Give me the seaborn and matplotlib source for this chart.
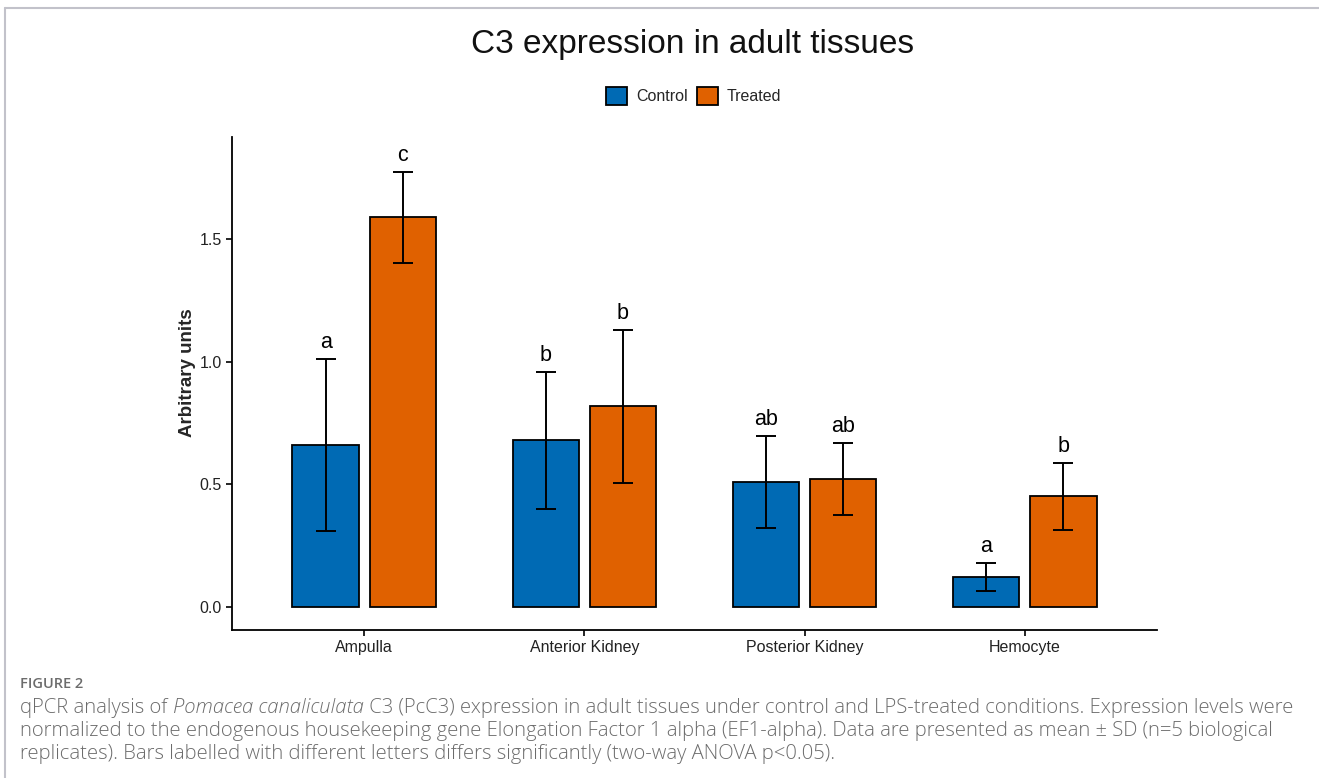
#%%
# C3 expression in adult tissues - grouped bars with SD error bars

import pandas as pd
import numpy as np
import seaborn as sns
from matplotlib import pyplot as plt
from matplotlib.lines import Line2D

# data (mean, SD, letter)
tissues = ["Ampulla", "Anterior Kidney", "Posterior Kidney", "Hemocyte"]
groups = ["Control", "Treated"]

control_mean = [0.66, 0.68, 0.51, 0.122]
control_sd = [0.35, 0.279, 0.188, 0.057]
control_letter = ["a", "b", "ab", "a"]

treated_mean = [1.588, 0.819, 0.522, 0.451]
treated_sd = [0.186, 0.312, 0.147, 0.136]
treated_letter = ["c", "b", "ab", "b"]

colours = ["#006AB4", "#E06100"]

df = pd.DataFrame({
    "tissue": tissues * 2,
    "group": ["Control"] * 4 + ["Treated"] * 4,
    "mean": control_mean + treated_mean,
    "sd": control_sd + treated_sd,
    "letter": control_letter + treated_letter,
})

sns.set_theme(style="ticks")
plt.rcParams['font.family'] = ['Liberation Sans', 'DejaVu Sans']

fig = plt.figure(figsize=(13.19, 7.78), dpi=100)
ax = fig.add_axes([232 / 1319, 148 / 778, 925 / 1319, 493 / 778])

sns.barplot(data=df, x="tissue", y="mean", hue="group", order=tissues, hue_order=groups,
            palette=colours, saturation=1, width=0.7, gap=0.14, errorbar=None,
            edgecolor="black", linewidth=1.3, ax=ax, legend=False)

# error bars + letters on top of each bar
for cont, grp in zip(ax.containers, groups):
    sub = df[df["group"] == grp].set_index("tissue").loc[tissues]
    xs = [b.get_x() + b.get_width() / 2 for b in cont]
    ax.errorbar(xs, sub["mean"], yerr=sub["sd"], fmt="none", ecolor="black",
                elinewidth=1.4, capsize=7.5, capthick=1.4, zorder=5)
    for x, m, s, lab in zip(xs, sub["mean"], sub["sd"], sub["letter"]):
        ax.text(x, m + s + 0.045, lab, ha="center", va="baseline", fontsize=15.5, color="black")

ax.set_xlim(-0.6, 3.6)
ax.set_ylim(-0.094, 1.916)
ax.set_yticks([0.0, 0.5, 1.0, 1.5])
ax.set_yticklabels(["0.0", "0.5", "1.0", "1.5"])
ax.tick_params(axis="both", labelsize=11.5, labelcolor="#222222", length=4, width=1.2, color="black")
ax.set_xlabel("")
ax.set_ylabel("Arbitrary units", fontsize=13.5, fontweight="bold")
ax.yaxis.set_label_coords(-0.039, 0.523)
sns.despine(ax=ax)
for sp in ["left", "bottom"]:
    ax.spines[sp].set_linewidth(1.3)
    ax.spines[sp].set_color("black")

# title and legend
fig.text(0.525, 1 - 45 / 778, "C3 expression in adult tissues", ha="center", va="center",
         fontsize=24, color="#111111")
handles = [plt.Rectangle((0, 0), 1, 1, facecolor=c, edgecolor="black", linewidth=1.3) for c in colours]
fig.legend(handles, groups, loc="center", bbox_to_anchor=(0.526, 1 - 96 / 778), ncol=2,
           frameon=False, fontsize=11.5, handlelength=1.3, handleheight=1.3,
           handletextpad=0.55, columnspacing=0.6)

# caption under the chart
cap_col = "#6c6c6c"
cap_font = ["Open Sans", "DejaVu Sans"]
cap_size = 14.55
x0 = 20 / 1319
fig.text(x0, 1 - 684 / 778, "FIGURE 2", fontsize=10.5, color=cap_col, va="center",
         family=cap_font, fontweight="semibold")
t1 = fig.text(x0, 1 - 708 / 778, "qPCR analysis of ", fontsize=cap_size, color=cap_col,
              va="center", family=cap_font, fontweight="light")
t2 = ax.annotate("Pomacea canaliculata", xy=(1, 0), xycoords=t1, va="bottom", ha="left",
                 fontsize=cap_size, color=cap_col, family=cap_font, style="italic",
                 fontweight="light", annotation_clip=False)
ax.annotate(" C3 (PcC3) expression in adult tissues under control and LPS-treated conditions. Expression levels were",
            xy=(1, 0), xycoords=t2, va="bottom", ha="left", fontsize=cap_size, color=cap_col,
            family=cap_font, fontweight="light", annotation_clip=False)
fig.text(x0, 1 - 731 / 778,
         "normalized to the endogenous housekeeping gene Elongation Factor 1 alpha (EF1-alpha). Data are presented as mean \u00b1 SD (n=5 biological",
         fontsize=cap_size, color=cap_col, va="center", family=cap_font, fontweight="light")
fig.text(x0, 1 - 754 / 778,
         "replicates). Bars labelled with different letters differs significantly (two-way ANOVA p<0.05).",
         fontsize=cap_size, color=cap_col, va="center", family=cap_font, fontweight="light")

# thin grey frame on top and left
fig.add_artist(Line2D([5 / 1319, 1], [1 - 8 / 778, 1 - 8 / 778], transform=fig.transFigure,
                      color="#c2c2ca", linewidth=1.5))
fig.add_artist(Line2D([5 / 1319, 5 / 1319], [0, 1 - 8 / 778], transform=fig.transFigure,
                      color="#c2c2ca", linewidth=1.5))

fig.savefig("out.png", dpi=100, facecolor="white")
